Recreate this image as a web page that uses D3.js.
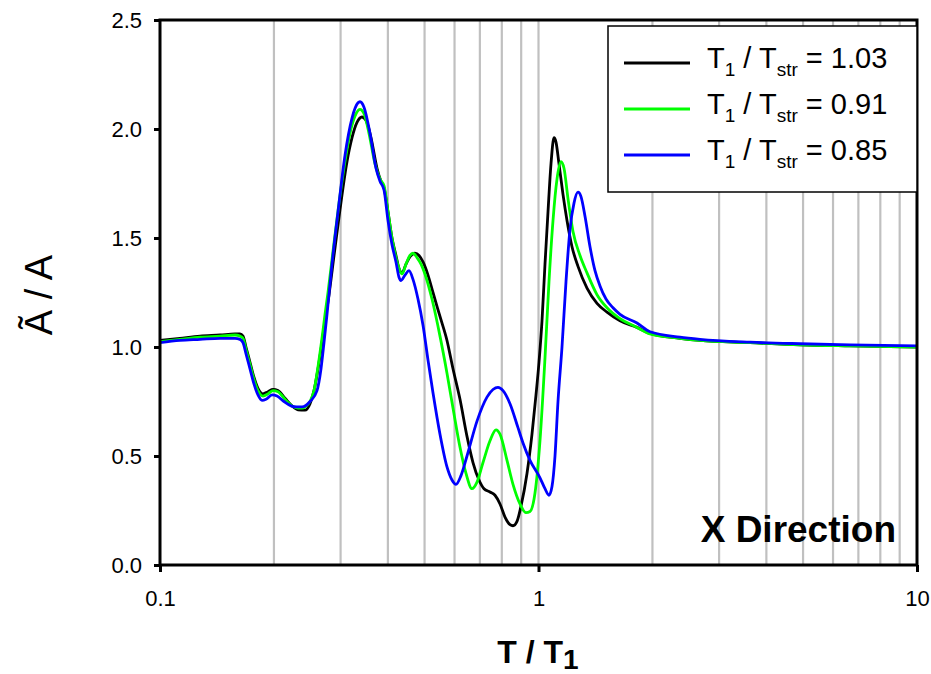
<!DOCTYPE html>
<html>
<head>
<meta charset="utf-8">
<script src="https://cdn.jsdelivr.net/npm/d3@7"></script>
<style>
  html, body { margin: 0; padding: 0; background: #fff; }
  svg { display: block; font-family: "Liberation Sans", Arial, sans-serif; }
</style>
</head>
<body>
<svg id="chart" width="931" height="674"></svg>
<script>
// ---------------- data ----------------
const seriesNames = ["1.03", "0.91", "0.85"];
const seriesColors = ["#000000", "#00ff00", "#0000ff"];

const xTickValues = [0.1, 1, 10];
const xTickLabels = ["0.1", "1", "10"];
const yTickValues = [0, 0.5, 1.0, 1.5, 2.0, 2.5];
const yTickLabels = ["0.0", "0.5", "1.0", "1.5", "2.0", "2.5"];
const gridValues = [0.2, 0.3, 0.4, 0.5, 0.6, 0.7, 0.8, 0.9, 1, 2, 3, 4, 5, 6, 7, 8, 9];

// T1/Tstr = 1.03
const blackT = [0.1, 0.1129, 0.1276, 0.1441, 0.1578, 0.1627, 0.1657, 0.1687, 0.1729, 0.1772,
  0.1815, 0.1871, 0.1929, 0.1989, 0.2050, 0.2139, 0.2232, 0.2315, 0.2416, 0.2491,
  0.2552, 0.2615, 0.2679, 0.2729, 0.2796, 0.2883, 0.2989, 0.3119, 0.3216, 0.3315,
  0.3417, 0.3501, 0.3610, 0.3744, 0.3836, 0.3907, 0.4003, 0.4101, 0.4202, 0.4280,
  0.4359, 0.4466, 0.4576, 0.4717, 0.4834, 0.4953, 0.5106, 0.5263, 0.5492, 0.5731,
  0.5944, 0.6203, 0.6473, 0.6713, 0.6963, 0.7178, 0.7445, 0.7675, 0.7912, 0.8156,
  0.8408, 0.8563, 0.8774, 0.8990, 0.9324, 0.9612, 0.9849, 1.0030, 1.0215, 1.0403,
  1.0595, 1.0790, 1.0989, 1.1123, 1.1328, 1.1607, 1.1893, 1.2260, 1.2716, 1.3432,
  1.4274, 1.5170, 1.6418, 1.8206, 1.9706, 2.364, 2.671, 3.622, 4.909, 6.653, 10];
const blackY = [1.03, 1.04, 1.05, 1.055, 1.06, 1.06, 1.05, 1.00, 0.93, 0.86,
  0.81, 0.785, 0.795, 0.805, 0.80, 0.765, 0.73, 0.712, 0.71, 0.74,
  0.80, 0.90, 1.02, 1.12, 1.24, 1.42, 1.63, 1.85, 1.96, 2.03,
  2.055, 2.04, 1.96, 1.82, 1.76, 1.73, 1.62, 1.50, 1.42, 1.36,
  1.34, 1.38, 1.415, 1.43, 1.42, 1.39, 1.33, 1.25, 1.14, 1.03,
  0.90, 0.76, 0.59, 0.47, 0.39, 0.35, 0.335, 0.32, 0.28, 0.22,
  0.185, 0.18, 0.20, 0.27, 0.42, 0.60, 0.78, 0.93, 1.12, 1.38,
  1.62, 1.84, 1.96, 1.94, 1.84, 1.70, 1.58, 1.46, 1.37, 1.27,
  1.20, 1.16, 1.12, 1.09, 1.062, 1.04, 1.03, 1.02, 1.01, 1.005, 1.0];

// T1/Tstr = 0.91
const greenT = [0.1, 0.1129, 0.1276, 0.1441, 0.1578, 0.1627, 0.1657, 0.1687, 0.1729, 0.1772,
  0.1815, 0.1871, 0.1929, 0.1989, 0.2050, 0.2139, 0.2232, 0.2315, 0.2372, 0.2416,
  0.2491, 0.2552, 0.2615, 0.2679, 0.2729, 0.2779, 0.2865, 0.2971, 0.3100, 0.3196,
  0.3295, 0.3376, 0.3459, 0.3566, 0.3699, 0.3813, 0.3907, 0.4003, 0.4101, 0.4202,
  0.4280, 0.4359, 0.4466, 0.4576, 0.4660, 0.4775, 0.4893, 0.5044, 0.5231, 0.5492,
  0.5731, 0.5944, 0.6203, 0.6434, 0.6673, 0.6879, 0.7135, 0.7445, 0.7722, 0.7912,
  0.8256, 0.8563, 0.8935, 0.9268, 0.9496, 0.9789, 1.0091, 1.0403, 1.0659, 1.0922,
  1.1191, 1.1467, 1.1678, 1.1966, 1.2335, 1.2872, 1.3432, 1.4274, 1.5170, 1.6418,
  1.8206, 1.9706, 2.364, 2.671, 3.622, 4.909, 6.653, 10];
const greenY = [1.025, 1.035, 1.045, 1.05, 1.055, 1.05, 1.04, 0.99, 0.92, 0.85,
  0.80, 0.775, 0.785, 0.80, 0.795, 0.76, 0.73, 0.72, 0.72, 0.725,
  0.75, 0.80, 0.91, 1.04, 1.15, 1.25, 1.44, 1.66, 1.88, 2.00,
  2.07, 2.09, 2.07, 1.98, 1.84, 1.77, 1.74, 1.62, 1.50, 1.41,
  1.36, 1.335, 1.38, 1.42, 1.43, 1.41, 1.38, 1.32, 1.22, 1.05,
  0.88, 0.72, 0.54, 0.42, 0.35, 0.38, 0.47, 0.57, 0.62, 0.60,
  0.48, 0.37, 0.28, 0.24, 0.245, 0.33, 0.57, 0.95, 1.30, 1.58,
  1.77, 1.85, 1.82, 1.68, 1.53, 1.42, 1.34, 1.24, 1.18, 1.13,
  1.09, 1.06, 1.04, 1.03, 1.02, 1.01, 1.005, 1.0];

// T1/Tstr = 0.85
const blueT = [0.1, 0.1129, 0.1276, 0.1441, 0.1578, 0.1627, 0.1657, 0.1687, 0.1729, 0.1772,
  0.1815, 0.1860, 0.1906, 0.1977, 0.2038, 0.2126, 0.2219, 0.2301, 0.2372, 0.2491,
  0.2599, 0.2663, 0.2712, 0.2762, 0.2847, 0.2953, 0.3082, 0.3216, 0.3335, 0.3376,
  0.3459, 0.3588, 0.3721, 0.3813, 0.3907, 0.4003, 0.4101, 0.4202, 0.4280, 0.4332,
  0.4439, 0.4548, 0.4660, 0.4804, 0.4953, 0.5106, 0.5263, 0.5492, 0.5731, 0.5908,
  0.6054, 0.6241, 0.6473, 0.6879, 0.7310, 0.7582, 0.7816, 0.8058, 0.8408, 0.8827,
  0.9100, 0.9496, 1.0091, 1.0403, 1.0659, 1.0856, 1.1056, 1.1259, 1.1537, 1.1821,
  1.2112, 1.2410, 1.2716, 1.2950, 1.3269, 1.3679, 1.4102, 1.4537, 1.5078, 1.5734,
  1.6418, 1.8206, 1.9706, 2.364, 2.671, 3.622, 4.909, 6.653, 10];
const blueY = [1.02, 1.03, 1.035, 1.04, 1.04, 1.035, 1.02, 0.97, 0.90, 0.83,
  0.78, 0.755, 0.76, 0.78, 0.775, 0.75, 0.73, 0.725, 0.725, 0.75,
  0.80, 0.90, 1.02, 1.15, 1.38, 1.62, 1.88, 2.05, 2.12, 2.125,
  2.10, 1.98, 1.82, 1.76, 1.72, 1.58, 1.47, 1.39, 1.32, 1.305,
  1.33, 1.35, 1.31, 1.22, 1.10, 0.94, 0.79, 0.60, 0.45, 0.39,
  0.37, 0.41, 0.50, 0.66, 0.77, 0.805, 0.815, 0.80, 0.74, 0.63,
  0.56, 0.48, 0.40, 0.35, 0.32, 0.36, 0.50, 0.75, 1.00, 1.30,
  1.54, 1.66, 1.71, 1.69, 1.60, 1.46, 1.35, 1.28, 1.22, 1.18,
  1.15, 1.11, 1.07, 1.045, 1.035, 1.022, 1.015, 1.01, 1.005];

const seriesT = [blackT, greenT, blueT];
const seriesY = [blackY, greenY, blueY];

// ---------------- layout ----------------
const plotL = 160, plotR = 917, plotT = 20, plotB = 565;

const svg = d3.select("#chart");
const x = d3.scaleLog().domain([0.1, 10]).range([plotL, plotR]);
const y = d3.scaleLinear().domain([0, 2.5]).range([plotB, plotT]);

// grid lines
svg.append("g").selectAll("line").data(gridValues).join("line")
  .attr("x1", d => x(d)).attr("x2", d => x(d))
  .attr("y1", plotT).attr("y2", plotB)
  .attr("stroke", "#c0c0c0").attr("stroke-width", 2.2);

// curves
const line = d3.line()
  .x(d => x(d[0])).y(d => y(d[1]))
  .curve(d3.curveMonotoneX);

seriesT.forEach((ts, i) => {
  const pts = ts.map((t, j) => [t, seriesY[i][j]]);
  svg.append("path").datum(pts)
    .attr("d", line)
    .attr("fill", "none")
    .attr("stroke", seriesColors[i])
    .attr("stroke-width", 2.8)
    .attr("stroke-linejoin", "round");
});

// frame
svg.append("rect")
  .attr("x", plotL).attr("y", plotT)
  .attr("width", plotR - plotL).attr("height", plotB - plotT)
  .attr("fill", "none").attr("stroke", "#000").attr("stroke-width", 3);

// axes
const xAxis = d3.axisBottom(x).tickValues(xTickValues)
  .tickFormat((d, i) => xTickLabels[i]).tickSizeOuter(0).tickSize(7).tickPadding(18);
const gx = svg.append("g").attr("transform", `translate(0,${plotB})`).call(xAxis);
gx.select(".domain").remove();
gx.selectAll(".tick line").attr("stroke", "#000").attr("stroke-width", 3);
gx.selectAll(".tick text").attr("font-size", 22).attr("fill", "#000")
  .attr("font-family", "Liberation Sans, Arial, sans-serif");

const yAxis = d3.axisLeft(y).tickValues(yTickValues)
  .tickFormat((d, i) => yTickLabels[i]).tickSizeOuter(0).tickSize(6).tickPadding(12);
const gy = svg.append("g").attr("transform", `translate(${plotL},0)`).call(yAxis);
gy.select(".domain").remove();
gy.selectAll(".tick line").attr("stroke", "#000").attr("stroke-width", 3);
gy.selectAll(".tick text").attr("font-size", 22).attr("fill", "#000")
  .attr("font-family", "Liberation Sans, Arial, sans-serif");

// axis titles
const xt = svg.append("text")
  .attr("x", 538).attr("y", 663)
  .attr("text-anchor", "middle")
  .attr("font-size", 32).attr("font-weight", "bold").attr("fill", "#000");
xt.append("tspan").text("T / T");
xt.append("tspan").attr("dy", 6).attr("font-size", 28).text("1");

svg.append("text")
  .attr("transform", "translate(52,295) rotate(-90)")
  .attr("text-anchor", "middle")
  .attr("font-size", 38).attr("fill", "#000")
  .text("Ã / A");

// annotation
svg.append("text")
  .attr("x", 896).attr("y", 542)
  .attr("text-anchor", "end")
  .attr("font-size", 37).attr("font-weight", "bold").attr("fill", "#000")
  .text("X Direction");

// legend
const lg = svg.append("g");
lg.append("rect")
  .attr("x", 608).attr("y", 26).attr("width", 309).attr("height", 166)
  .attr("fill", "#fff").attr("stroke", "#000").attr("stroke-width", 1.5);
const rowY = [63, 109, 155];
seriesNames.forEach((name, i) => {
  lg.append("line")
    .attr("x1", 624).attr("x2", 690)
    .attr("y1", rowY[i]).attr("y2", rowY[i])
    .attr("stroke", seriesColors[i]).attr("stroke-width", 2.8);
  const t = lg.append("text")
    .attr("x", 707).attr("y", rowY[i] + 5)
    .attr("font-size", 29).attr("fill", "#000");
  t.append("tspan").text("T");
  t.append("tspan").attr("dy", 8).attr("font-size", 19).text("1");
  t.append("tspan").attr("dy", -8).text(" / T");
  t.append("tspan").attr("dy", 8).attr("font-size", 19).text("str");
  t.append("tspan").attr("dy", -8).text(" = " + name);
});
</script>
</body>
</html>
